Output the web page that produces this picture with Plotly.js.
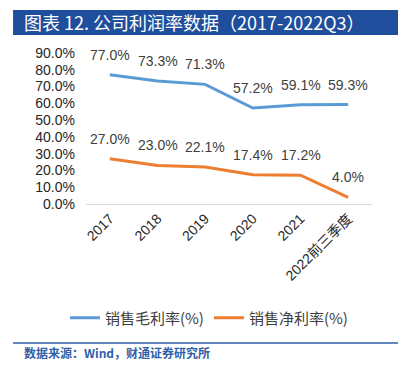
<!DOCTYPE html>
<html>
<head>
<meta charset="utf-8">
<script src="https://cdn.plot.ly/plotly-3.0.1.min.js"></script>
<style>html,body{margin:0;padding:0;background:#fff;}#chart{width:409px;height:366px;}</style>
</head>
<body>
<div id="chart"></div>
<script>
const categories = ['2017', '2018', '2019', '2020', '2021', '2022前三季度'];
const grossMargin = [77.0, 73.3, 71.3, 57.2, 59.1, 59.3];
const netMargin = [27.0, 23.0, 22.1, 17.4, 17.2, 4.0];
const yTicks = [0, 10, 20, 30, 40, 50, 60, 70, 80, 90];
const seriesNames = ['销售毛利率(%)', '销售净利率(%)'];

const fontFam = 'Liberation Sans, Arial, "Noto Sans CJK SC", sans-serif';
const cjkFam = '"Noto Sans CJK SC", sans-serif';

const traces = [
  {x: categories, y: grossMargin, name: seriesNames[0], type: 'scatter', mode: 'lines',
   line: {color: '#5b9bd5', width: 3}, hoverinfo: 'skip'},
  {x: categories, y: netMargin, name: seriesNames[1], type: 'scatter', mode: 'lines',
   line: {color: '#ed7d31', width: 3}, hoverinfo: 'skip'}
];

const annotations = [];
[grossMargin, netMargin].forEach(series => {
  series.forEach((v, i) => {
    annotations.push({x: i, y: v, xref: 'x', yref: 'y', text: v.toFixed(1) + '%',
      showarrow: false, yshift: 20, font: {family: fontFam, size: 14, color: '#404040'}});
  });
});
annotations.push({xref: 'paper', yref: 'paper', x: -0.224, y: 1.202, xanchor: 'left', yanchor: 'middle',
  text: '图表 12. 公司利润率数据（2017-2022Q3）', showarrow: false,
  font: {family: cjkFam, size: 18, color: '#ffffff'}});
annotations.push({xref: 'paper', yref: 'paper', x: -0.224, y: -0.985, xanchor: 'left', yanchor: 'middle',
  text: '<b>数据来源：Wind，财通证券研究所</b>', showarrow: false,
  font: {family: cjkFam, size: 12, color: '#2e5fa8'}});

const layout = {
  width: 409, height: 366,
  margin: {l: 86, r: 37, t: 53, b: 162},
  paper_bgcolor: '#ffffff', plot_bgcolor: '#ffffff',
  showlegend: true,
  legend: {orientation: 'h', x: 0.43, xanchor: 'center',
    y: -0.755, yanchor: 'middle', tracegroupgap: 0,
    font: {family: cjkFam, size: 15, color: '#404040'}, itemwidth: 30},
  xaxis: {type: 'category', range: [-0.5, 5.5], tickangle: -45, showgrid: false, zeroline: false,
    showline: true, linecolor: '#d9d9d9', linewidth: 1, ticks: '',
    tickfont: {family: fontFam, size: 14, color: '#262626'}, fixedrange: true},
  yaxis: {range: [0, 90], tickvals: yTicks, ticktext: yTicks.map(t => t.toFixed(1) + '%'),
    showgrid: false, zeroline: false, showline: false, ticks: '', ticklabelstandoff: 10,
    tickfont: {family: fontFam, size: 14, color: '#262626'}, fixedrange: true},
  shapes: [
    {type: 'rect', xref: 'paper', yref: 'paper', x0: -0.255, x1: 1.091, y0: 1.119, y1: 1.285,
     fillcolor: '#1f4e9c', line: {width: 0}, layer: 'below'},
    {type: 'line', xref: 'paper', yref: 'paper', x0: -0.255, x1: 1.091, y0: -0.921, y1: -0.921,
     line: {color: '#2e5fa8', width: 1.5}}
  ],
  annotations: annotations
};

Plotly.newPlot('chart', traces, layout, {displayModeBar: false, staticPlot: true});
</script>
</body>
</html>
